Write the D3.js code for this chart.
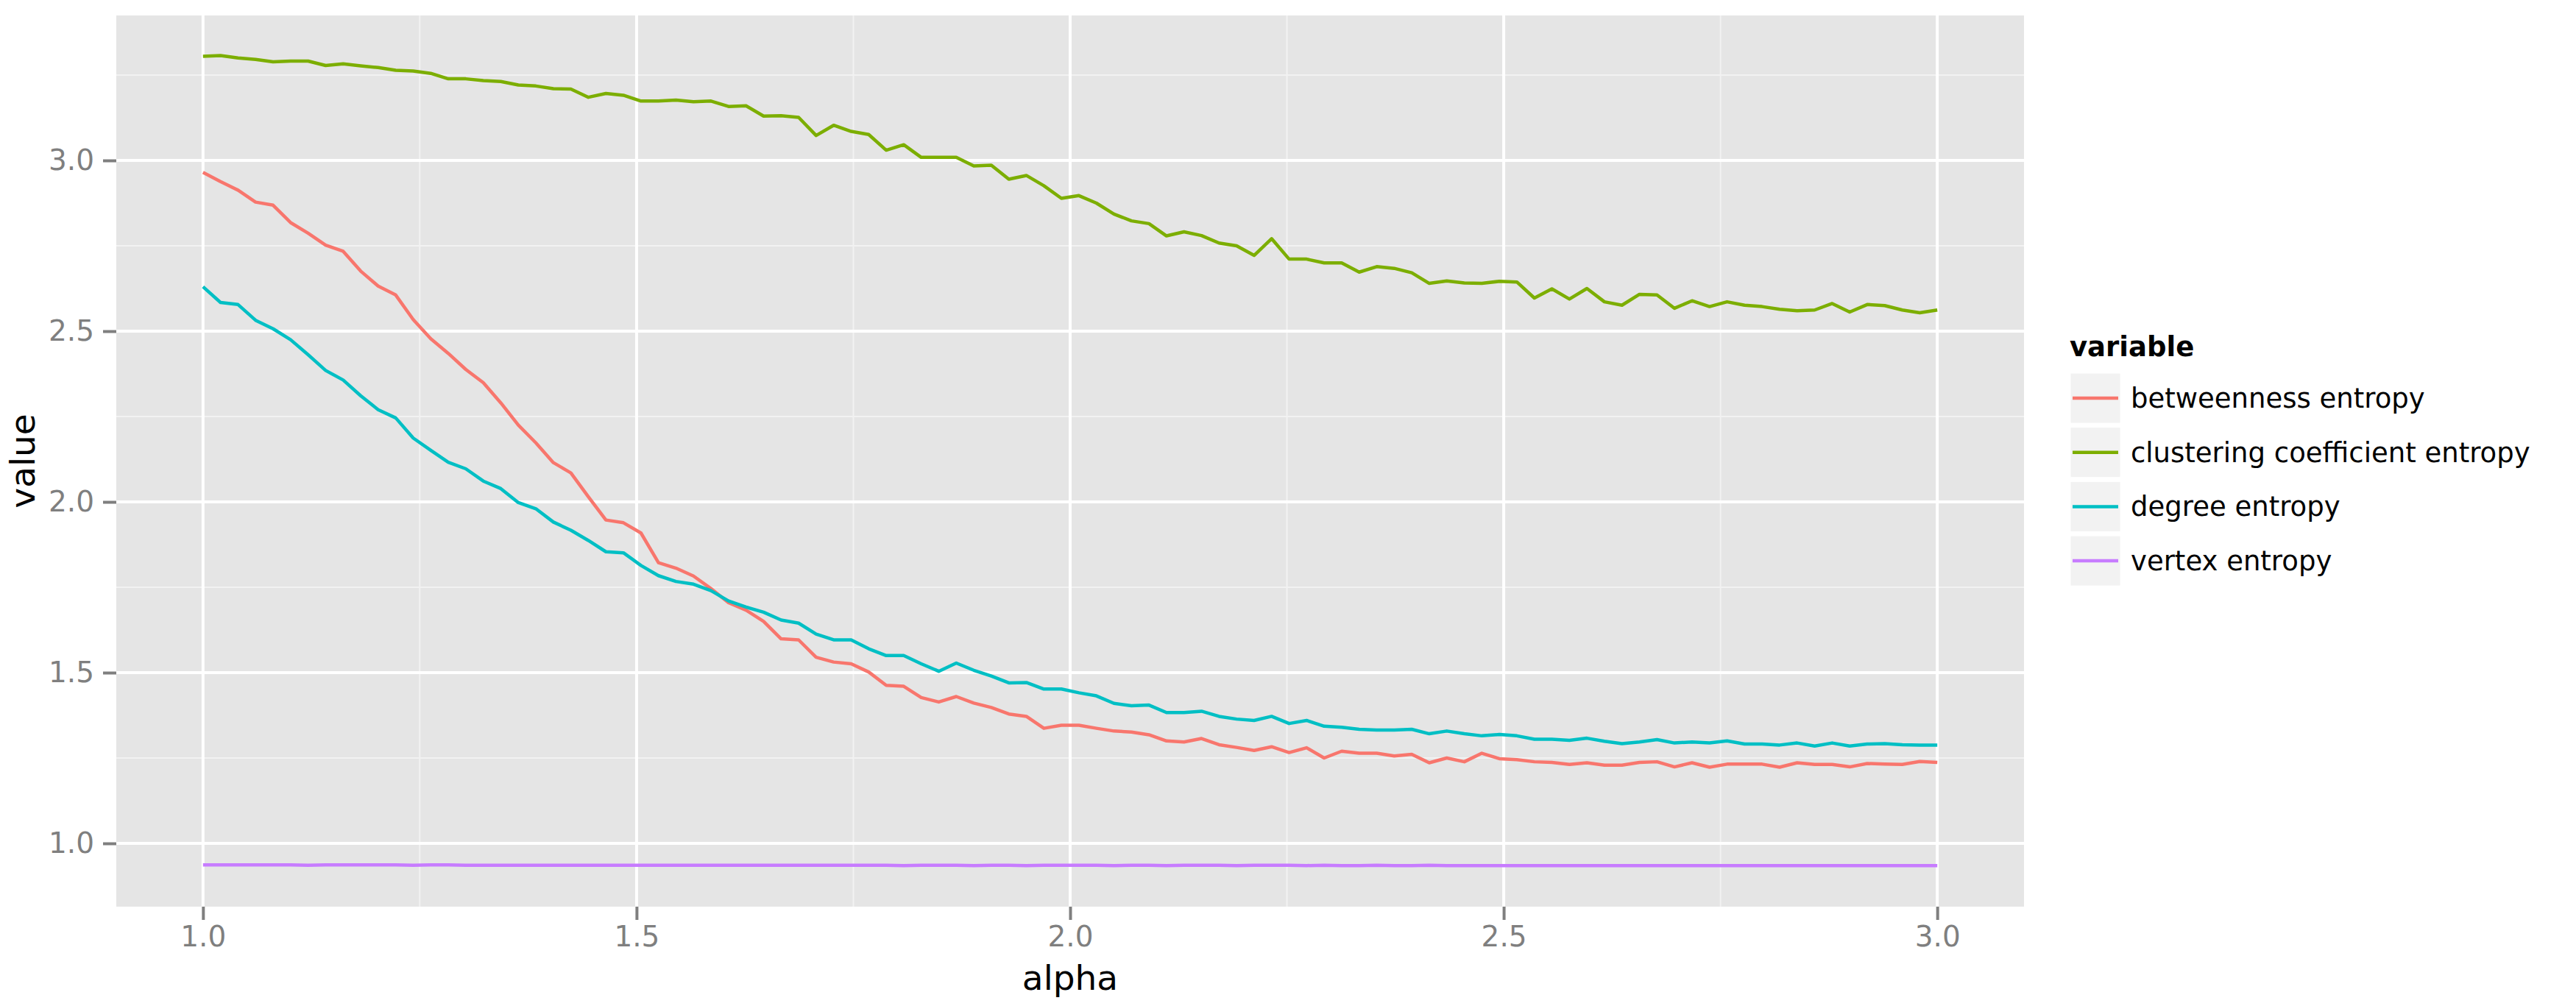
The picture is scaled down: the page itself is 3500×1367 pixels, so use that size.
<!DOCTYPE html>
<html>
<head>
<meta charset="utf-8">
<script src="https://cdn.jsdelivr.net/npm/d3@7"></script>
<style>
  body { margin: 0; background: #fff; }
  text { font-family: "DejaVu Sans", sans-serif; }
</style>
</head>
<body>
<div id="chart"></div>
<script>
// alpha = seq(1, 3, length.out = 100)
const alpha = d3.range(100).map(i => 1 + i * 2 / 99);

const betweenness = [
  2.965, 2.938, 2.913, 2.878, 2.869, 2.818, 2.787, 2.752, 2.734, 2.676,
  2.632, 2.606, 2.534, 2.478, 2.435, 2.388, 2.349, 2.290, 2.225, 2.173,
  2.115, 2.085, 2.015, 1.947, 1.939,
  1.909, 1.822, 1.806, 1.783, 1.746, 1.705, 1.683, 1.650, 1.599, 1.596,
  1.545, 1.531, 1.526, 1.502, 1.463, 1.460, 1.427, 1.414, 1.430, 1.411,
  1.398, 1.379, 1.372, 1.337, 1.346,
  1.346, 1.337, 1.329, 1.326, 1.318, 1.300, 1.297, 1.307, 1.289, 1.281,
  1.272, 1.283, 1.266, 1.280, 1.250, 1.270, 1.264, 1.264, 1.256, 1.261,
  1.236, 1.250, 1.239, 1.264, 1.248,
  1.245, 1.239, 1.237, 1.231, 1.236, 1.229, 1.229, 1.237, 1.239, 1.224,
  1.236, 1.223, 1.232, 1.232, 1.232, 1.223, 1.236, 1.231, 1.231, 1.224,
  1.234, 1.232, 1.231, 1.240, 1.237
];

const clustering = [
  3.305, 3.307, 3.300, 3.296, 3.289, 3.291, 3.291, 3.278, 3.283, 3.277,
  3.272, 3.264, 3.262, 3.255, 3.239, 3.239, 3.234, 3.231, 3.221, 3.218,
  3.210, 3.209, 3.185, 3.196, 3.191,
  3.174, 3.174, 3.177, 3.172, 3.174, 3.158, 3.160, 3.130, 3.131, 3.126,
  3.073, 3.103, 3.085, 3.076, 3.030, 3.046, 3.009, 3.009, 3.009, 2.984,
  2.986, 2.945, 2.956, 2.926, 2.889,
  2.897, 2.875, 2.843, 2.823, 2.815, 2.779, 2.791, 2.780, 2.758, 2.750,
  2.722, 2.771, 2.711, 2.711, 2.700, 2.700, 2.673, 2.689, 2.684, 2.671,
  2.640, 2.647, 2.641, 2.640, 2.646,
  2.644, 2.597, 2.624, 2.594, 2.625, 2.586, 2.576, 2.608, 2.606, 2.567,
  2.589, 2.572, 2.586, 2.576, 2.572, 2.564, 2.560, 2.562, 2.581, 2.556,
  2.578, 2.575, 2.562, 2.554, 2.562
];

const degree = [
  2.630, 2.584, 2.578, 2.532, 2.507, 2.475, 2.431, 2.385, 2.357, 2.311,
  2.270, 2.246, 2.187, 2.151, 2.116, 2.097, 2.061, 2.039, 1.998, 1.980,
  1.941, 1.917, 1.887, 1.854, 1.851,
  1.814, 1.784, 1.767, 1.759, 1.740, 1.710, 1.692, 1.677, 1.654, 1.645,
  1.613, 1.596, 1.596, 1.570, 1.550, 1.550, 1.526, 1.504, 1.528, 1.507,
  1.490, 1.470, 1.471, 1.452, 1.452,
  1.441, 1.432, 1.410, 1.403, 1.405, 1.383, 1.383, 1.387, 1.372, 1.364,
  1.360, 1.372, 1.351, 1.360, 1.343, 1.340, 1.334, 1.332, 1.332, 1.334,
  1.321, 1.329, 1.321, 1.315, 1.319,
  1.315, 1.305, 1.305, 1.302, 1.308, 1.299, 1.292, 1.297, 1.304, 1.294,
  1.297, 1.294, 1.300, 1.291, 1.291, 1.288, 1.294, 1.285, 1.294, 1.285,
  1.291, 1.292, 1.289, 1.288, 1.288
];

const vertex = [
  0.937, 0.937, 0.937, 0.937, 0.937, 0.937, 0.936, 0.937, 0.937, 0.937,
  0.937, 0.937, 0.936, 0.937, 0.937, 0.936, 0.936, 0.936, 0.936, 0.936,
  0.936, 0.936, 0.936, 0.936, 0.936, 0.936, 0.936, 0.936, 0.936, 0.936,
  0.936, 0.936, 0.936, 0.936, 0.936, 0.936, 0.936, 0.936, 0.936, 0.936,
  0.935, 0.936, 0.936, 0.936, 0.935, 0.936, 0.936, 0.935, 0.936, 0.936,
  0.936, 0.936, 0.935, 0.936, 0.936, 0.935, 0.936, 0.936, 0.936, 0.935,
  0.936, 0.936, 0.936, 0.935, 0.936, 0.935, 0.935, 0.936, 0.935, 0.935,
  0.936, 0.935, 0.935, 0.935, 0.935, 0.935, 0.935, 0.935, 0.935, 0.935,
  0.935, 0.935, 0.935, 0.935, 0.935, 0.935, 0.935, 0.935, 0.935, 0.935,
  0.935, 0.935, 0.935, 0.935, 0.935, 0.935, 0.935, 0.935, 0.935, 0.935
];

const seriesNames = ["betweenness entropy", "clustering coefficient entropy", "degree entropy", "vertex entropy"];
const seriesValues = [betweenness, clustering, degree, vertex];
const seriesColors = ["#F8766D", "#7CAE00", "#00BFC4", "#C77CFF"];

const xTicks = [1.0, 1.5, 2.0, 2.5, 3.0];
const yTicks = [1.0, 1.5, 2.0, 2.5, 3.0];
const xMinor = [1.25, 1.75, 2.25, 2.75];
const yMinor = [1.25, 1.75, 2.25, 2.75, 3.25];

const width = 3500, height = 1367;
const panel = { left: 158, right: 2750, top: 21, bottom: 1232 };

const svg = d3.select("#chart").append("svg")
  .attr("width", width).attr("height", height);

const x = d3.scaleLinear().domain([0.9, 3.1]).range([panel.left, panel.right]);
const y = d3.scaleLinear().domain([0.8147, 3.4246]).range([panel.bottom, panel.top]);

// panel background
svg.append("rect")
  .attr("x", panel.left).attr("y", panel.top)
  .attr("width", panel.right - panel.left).attr("height", panel.bottom - panel.top)
  .attr("fill", "#E5E5E5");

// grid
const grid = svg.append("g");
grid.selectAll(".xminor").data(xMinor).enter().append("line")
  .attr("x1", d => x(d)).attr("x2", d => x(d))
  .attr("y1", panel.top).attr("y2", panel.bottom)
  .attr("stroke", "#F2F2F2").attr("stroke-width", 2);
grid.selectAll(".yminor").data(yMinor).enter().append("line")
  .attr("y1", d => y(d)).attr("y2", d => y(d))
  .attr("x1", panel.left).attr("x2", panel.right)
  .attr("stroke", "#F2F2F2").attr("stroke-width", 2);
grid.selectAll(".xmajor").data(xTicks).enter().append("line")
  .attr("x1", d => x(d)).attr("x2", d => x(d))
  .attr("y1", panel.top).attr("y2", panel.bottom)
  .attr("stroke", "#FFFFFF").attr("stroke-width", 4);
grid.selectAll(".ymajor").data(yTicks).enter().append("line")
  .attr("y1", d => y(d)).attr("y2", d => y(d))
  .attr("x1", panel.left).attr("x2", panel.right)
  .attr("stroke", "#FFFFFF").attr("stroke-width", 4);

// lines
const line = d3.line().x((d, i) => x(alpha[i])).y(d => y(d));
svg.append("g").selectAll("path")
  .data(seriesValues).enter().append("path")
  .attr("d", d => line(d))
  .attr("fill", "none")
  .attr("stroke", (d, i) => seriesColors[i])
  .attr("stroke-width", 4.5)
  .attr("stroke-linejoin", "round");

// axes
const xAxis = svg.append("g")
  .attr("transform", `translate(0,${panel.bottom})`)
  .call(d3.axisBottom(x).tickValues(xTicks).tickFormat(d3.format(".1f")).tickSize(18).tickPadding(8));
const yAxis = svg.append("g")
  .attr("transform", `translate(${panel.left},0)`)
  .call(d3.axisLeft(y).tickValues(yTicks).tickFormat(d3.format(".1f")).tickSize(18).tickPadding(12));
[xAxis, yAxis].forEach(a => {
  a.select(".domain").remove();
  a.selectAll(".tick line").attr("stroke", "#7F7F7F").attr("stroke-width", 4);
  a.selectAll(".tick text").attr("fill", "#7F7F7F")
    .attr("font-family", "DejaVu Sans").attr("font-size", 39);
});

// axis titles
svg.append("text")
  .attr("x", (panel.left + panel.right) / 2).attr("y", 1345)
  .attr("text-anchor", "middle").attr("font-size", 47).text("alpha");
svg.append("text")
  .attr("transform", `translate(47,${(panel.top + panel.bottom) / 2}) rotate(-90)`)
  .attr("text-anchor", "middle").attr("font-size", 47).text("value");

// legend
const legend = svg.append("g").attr("transform", "translate(2812,484)");
legend.append("text").attr("x", 0).attr("y", 0)
  .attr("font-size", 37).attr("font-weight", "bold").text("variable");
seriesNames.forEach((name, i) => {
  const top = 22 + i * 73.7;
  legend.append("rect")
    .attr("x", 0).attr("y", top).attr("width", 70).attr("height", 70)
    .attr("fill", "#F2F2F2").attr("stroke", "#FFFFFF").attr("stroke-width", 3);
  legend.append("line")
    .attr("x1", 4).attr("x2", 66).attr("y1", top + 35).attr("y2", top + 35)
    .attr("stroke", seriesColors[i]).attr("stroke-width", 4.5);
  legend.append("text")
    .attr("x", 83).attr("y", top + 35).attr("dy", "0.35em")
    .attr("font-size", 37).text(name);
});
</script>
</body>
</html>
